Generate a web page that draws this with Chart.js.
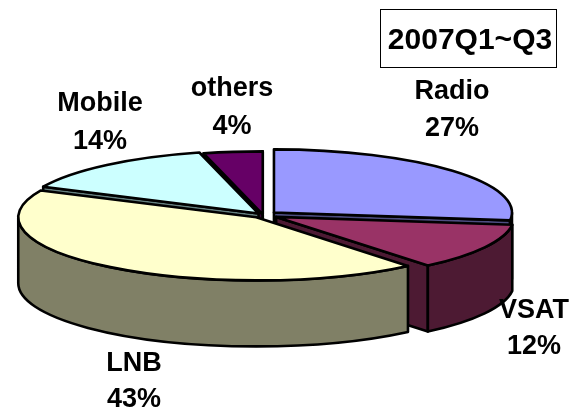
<!DOCTYPE html>
<html><head><meta charset="utf-8">
<style>html,body{margin:0;padding:0;background:#fff}canvas{display:block}</style>
<script src="https://cdn.jsdelivr.net/npm/chart.js@4"></script>
</head><body><canvas id="c" width="569" height="410"></canvas>
<script>
const categories = ['Radio','VSAT','LNB','Mobile','others'];
const shares = [27,12,43,14,4];
const faceColors = ['#9999FF','#993366','#FFFFCC','#CCFFFF','#660066'];
const wallColors = ['#4D4D80','#4D1A33','#808066','#668080','#330033'];
const explode = [14.6,15,11,7,2];
const title = '2007Q1~Q3';

const TILT = 0.265, DEPTH = 66, LINE = 2.6, FONT = 'bold 27px "Liberation Sans", Arial, sans-serif';
const labelAnchors = [[452,92,129],[534,311,347],[134,364,400],[100,104,142],[232,89,127]];
const paintOrder = [4,3,0,1,2];

const pie3d = {
  id:'pie3d',
  beforeDatasetsDraw(chart){
    const ctx = chart.ctx, arcs = chart.getDatasetMeta(0).data;
    const nativeStroke = ctx.stroke;
    ctx.stroke = function(){ this.save(); this.setTransform(1,0,0,1,0,0); nativeStroke.call(this); this.restore(); };
    paintOrder.forEach(i=>{
      const arc = arcs[i];
      const {x,y,startAngle:a0,endAngle:a1,outerRadius:r} = arc.getProps(['x','y','startAngle','endAngle','outerRadius'],true);
      const mid=(a0+a1)/2, ex=Math.cos(mid)*explode[i], ey=Math.sin(mid)*explode[i];
      const X=x+ex, Y=y+ey*TILT;
      ctx.save();
      ctx.fillStyle=wallColors[i]; ctx.strokeStyle='#000'; ctx.lineWidth=LINE; ctx.lineJoin='round';
      const cut=a=>{
        const px=X+r*Math.cos(a), py=Y+r*TILT*Math.sin(a);
        ctx.beginPath(); ctx.moveTo(X,Y); ctx.lineTo(px,py); ctx.lineTo(px,py+DEPTH); ctx.lineTo(X,Y+DEPTH); ctx.closePath();
        ctx.fill(); ctx.stroke();
      };
      if(Math.cos(a0)<0) cut(a0);
      if(Math.cos(a1)>0) cut(a1);
      const from=Math.max(a0,0), to=Math.min(a1,Math.PI);
      if(to>from){
        ctx.beginPath();
        ctx.ellipse(X,Y,r,r*TILT,0,from,to);
        ctx.ellipse(X,Y+DEPTH,r,r*TILT,0,to,from,true);
        ctx.closePath(); ctx.fill(); ctx.stroke();
      }
      ctx.restore();
      ctx.save();
      ctx.translate(X,Y); ctx.scale(1,TILT); ctx.translate(-x,-y);
      arc.draw(ctx);
      ctx.restore();
    });
    delete ctx.stroke;
    return false;
  },
  afterDraw(chart){
    const ctx=chart.ctx;
    ctx.save();
    ctx.fillStyle='#000'; ctx.font=FONT; ctx.textAlign='center'; ctx.textBaseline='middle';
    const total=shares.reduce((a,b)=>a+b,0);
    categories.forEach((c,i)=>{
      const [lx,ly1,ly2]=labelAnchors[i];
      ctx.fillText(c,lx,ly1);
      ctx.fillText(Math.round(shares[i]/total*100)+'%',lx,ly2);
    });
    ctx.strokeStyle='#000'; ctx.lineWidth=1;
    ctx.strokeRect(380.5,9.5,176,58);
    ctx.font='bold 30px "Liberation Sans", Arial, sans-serif';
    ctx.fillText(title,470,41);
    ctx.restore();
  }
};

new Chart(document.getElementById('c'),{
  type:'pie',
  data:{labels:categories,datasets:[{data:shares,backgroundColor:faceColors,borderColor:'#000',borderWidth:LINE,borderJoinStyle:'round'}]},
  options:{responsive:false,animation:false,radius:238,rotation:0,
    layout:{padding:{right:43,top:20}},
    plugins:{legend:{display:false},tooltip:{enabled:false},title:{display:false}}},
  plugins:[pie3d]
});
</script></body></html>
